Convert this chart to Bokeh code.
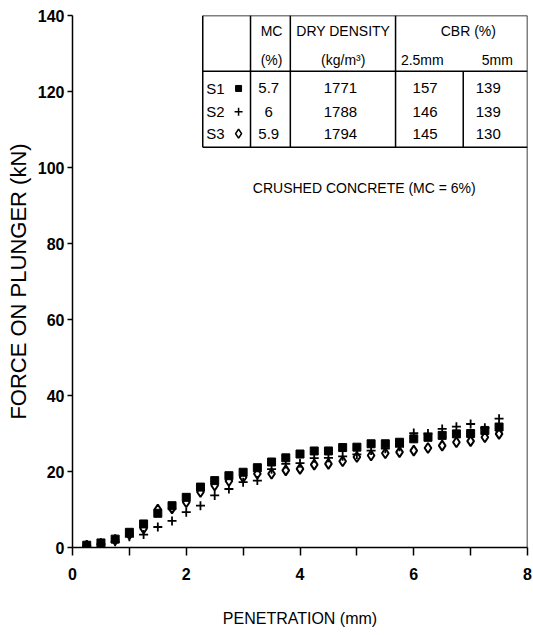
from bokeh.plotting import figure
from bokeh.models import FixedTicker, Range1d, Span
from bokeh.core.properties import value
from bokeh.embed import file_html
from bokeh.resources import INLINE

# ---------------- data ----------------
penetration = [0.25, 0.5, 0.75, 1.0, 1.25, 1.5, 1.75, 2.0, 2.25, 2.5,
               2.75, 3.0, 3.25, 3.5, 3.75, 4.0, 4.25, 4.5, 4.75, 5.0,
               5.25, 5.5, 5.75, 6.0, 6.25, 6.5, 6.75, 7.0, 7.25, 7.5]
s1_force = [0.6, 1.2, 2.2, 4.0, 6.2, 9.0, 11.0, 13.2, 15.9, 17.6,
            18.9, 19.8, 21.0, 22.5, 23.6, 24.6, 25.4, 25.4, 26.3, 26.4,
            27.3, 27.3, 27.7, 28.6, 29.0, 29.5, 29.9, 30.0, 30.8, 31.7]
s2_force = [0.4, 0.8, 1.5, 2.8, 3.4, 5.4, 7.0, 9.3, 11.0, 13.7,
            15.4, 17.2, 17.6, 20.6, 22.0, 22.2, 23.5, 23.6, 24.0, 24.5,
            25.5, 26.0, 26.5, 30.1, 30.0, 31.2, 31.8, 32.5, 31.5, 33.9]
s3_force = [0.5, 1.0, 2.0, 3.5, 5.0, 10.0, 10.3, 11.9, 14.6, 16.3,
            17.5, 18.5, 19.4, 19.4, 20.3, 20.7, 21.8, 22.0, 22.7, 23.8,
            24.2, 24.8, 25.1, 25.5, 26.2, 26.8, 27.7, 28.0, 29.0, 29.9]

samples = ["S1", "S2", "S3"]
sample_markers = ["square", "cross", "diamond"]
mc_values = ["5.7", "6", "5.9"]
dry_density = ["1771", "1788", "1794"]
cbr_25mm = ["157", "146", "145"]
cbr_5mm = ["139", "139", "130"]

x_ticks = [0, 2, 4, 6, 8]
x_minor = [1, 3, 5, 7]
y_ticks = [0, 20, 40, 60, 80, 100, 120, 140]

NARROW = "'Liberation Sans Narrow', 'Arial Narrow', 'Liberation Sans', Arial, sans-serif"
WIDE = "'Liberation Sans', Arial, sans-serif"

# ---------------- figure ----------------
p = figure(width=533, height=635, output_backend="svg", toolbar_location=None,
           x_range=Range1d(0, 8), y_range=Range1d(0, 140),
           min_border_left=72, min_border_right=6, min_border_top=15,
           min_border_bottom=88)
p.grid.visible = False
p.outline_line_color = None
p.background_fill_color = "white"
p.border_fill_color = "white"

p.xaxis.ticker = FixedTicker(ticks=x_ticks, minor_ticks=x_minor)
p.yaxis.ticker = FixedTicker(ticks=y_ticks, minor_ticks=[])
for ax in (p.xaxis[0], p.yaxis[0]):
    ax.axis_line_color = "black"
    ax.axis_line_width = 1.5
    ax.major_tick_line_color = "black"
    ax.major_tick_line_width = 1.5
    ax.minor_tick_line_color = "black"
    ax.minor_tick_line_width = 1.5
    ax.major_tick_in = 0
    ax.minor_tick_in = 0
    ax.major_label_text_font = NARROW
    ax.major_label_text_font_style = "bold"
    ax.major_label_text_font_size = "16px"
    ax.major_label_text_color = "black"
    ax.axis_label_text_color = "black"
    ax.axis_label_text_font_style = "normal"

p.xaxis.major_tick_out = 8
p.xaxis.minor_tick_out = 8
p.xaxis.major_label_standoff = 12
p.xaxis.axis_label = "PENETRATION (mm)"
p.xaxis.axis_label_text_font = NARROW
p.xaxis.axis_label_text_font_size = "16px"
p.xaxis.axis_label_standoff = 27

p.yaxis.major_tick_out = 5
p.yaxis.major_label_standoff = 3
p.yaxis.axis_label = "FORCE ON PLUNGER (kN)"
p.yaxis.axis_label_text_font = WIDE
p.yaxis.axis_label_text_font_size = "22px"
p.yaxis.axis_label_standoff = 4

# right frame edge
p.add_layout(Span(location=8, dimension="height", line_color="black", line_width=1.5))

# ---------------- data marks ----------------
p.scatter(penetration, s1_force, marker="square", size=8, fill_color="black",
          line_color="black")
p.scatter(penetration, s3_force, marker="diamond", size=10, fill_color=None,
          line_color="black", line_width=2)
p.scatter(penetration, s2_force, marker="cross", size=9, line_color="black",
          line_width=1.8)

# ---------------- table (inside plot) ----------------
t_left, c1, c2, c3, c4, t_right = 2.29, 3.13, 3.83, 5.68, 6.87, 8.0
t_top, t_hdr, t_bot = 140, 125.3, 105.3
p.segment(x0=[t_left, t_left, t_left], y0=[t_top, t_hdr, t_bot],
          x1=[t_right, t_right, t_right], y1=[t_top, t_hdr, t_bot],
          line_color="black", line_width=1.5)
p.segment(x0=[t_left, c1, c2, c3, c4], y0=[t_bot] * 5,
          x1=[t_left, c1, c2, c3, c4], y1=[t_top, t_top, t_top, t_top, t_hdr],
          line_color="black", line_width=1.5)

hdr_font = dict(text_font=value(NARROW), text_font_size="14px", text_color="black",
                text_align="center", text_baseline="middle")
p.text(x=[3.5, 4.76, 6.96], y=[136, 136, 136],
       text=["MC", "DRY DENSITY", "CBR (%)"], **hdr_font)
p.text(x=[3.5, 4.76, 6.15, 7.47], y=[128.4, 128.4, 128.2, 128.2],
       text=["(%)", "(kg/m\u00b3)", "2.5mm", "5mm"], **hdr_font)

row_y = [120.8, 114.7, 108.9]
cell_font = dict(text_font=value(NARROW), text_font_size="15px", text_color="black",
                 text_baseline="middle")
p.text(x=[2.35] * 3, y=row_y, text=samples, text_align="left", **cell_font)
for m, yy in zip(sample_markers, row_y):
    if m == "square":
        p.scatter([2.92], [yy], marker=m, size=6, fill_color="black", line_color="black")
    elif m == "cross":
        p.scatter([2.92], [yy], marker=m, size=8, line_color="black", line_width=1.5)
    else:
        p.scatter([2.92], [yy], marker=m, size=9, fill_color=None, line_color="black",
                  line_width=1.6)
p.text(x=[3.45] * 3, y=row_y, text=mc_values, text_align="center", **cell_font)
p.text(x=[4.71] * 3, y=row_y, text=dry_density, text_align="center", **cell_font)
p.text(x=[6.2] * 3, y=row_y, text=cbr_25mm, text_align="center", **cell_font)
p.text(x=[7.31] * 3, y=row_y, text=cbr_5mm, text_align="center", **cell_font)

p.text(x=[5.13], y=[94.5], text=["CRUSHED CONCRETE (MC = 6%)"], text_align="center",
       text_baseline="middle", text_font=value(NARROW), text_font_size="14px",
       text_color="black")

open("out.html", "w").write(file_html(p, INLINE))
